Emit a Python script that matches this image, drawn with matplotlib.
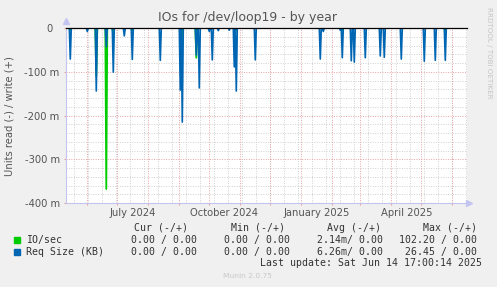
#!/usr/bin/env python
# -*- coding: utf-8 -*-

import pandas as pd
import matplotlib
matplotlib.use('Agg')
import matplotlib.pyplot as plt

# Munin "by year" window: 400 days up to last update
start = pd.Timestamp('2024-05-10 17:00')
end = pd.Timestamp('2025-06-15 17:00')

# Read spikes (negative side), milli-units
req_dates = ['2024-05-15', '2024-06-01', '2024-06-10', '2024-06-20', '2024-06-27',
             '2024-07-08', '2024-07-16', '2024-08-13', '2024-09-02', '2024-09-04',
             '2024-09-18', '2024-09-21', '2024-10-01', '2024-10-04', '2024-10-10',
             '2024-10-21', '2024-10-26', '2024-10-28', '2024-11-16', '2025-01-20',
             '2025-01-23', '2025-02-09', '2025-02-11', '2025-02-20', '2025-02-23',
             '2025-03-06', '2025-03-21', '2025-03-25', '2025-04-11', '2025-05-04',
             '2025-05-15', '2025-05-25']
req_values = [-71, -8, -144, -43, -101,
              -18, -72, -74, -142, -215,
              -62, -137, -8, -73, -6,
              -5, -89, -144, -73, -71,
              -8, -5, -68, -75, -78,
              -68, -64, -67, -71, -76,
              -74, -74]

io_dates = ['2024-05-15', '2024-06-10', '2024-06-20', '2024-06-27', '2024-07-16',
            '2024-09-03', '2024-09-18', '2024-10-28', '2025-02-11', '2025-05-25']
io_values = [-5, -110, -368, -15, -6,
             -50, -68, -5, -6, -8]

y_ticks = [0, -100, -200, -300, -400]
y_tick_labels = ['0  ', '-100 m', '-200 m', '-300 m', '-400 m']

month_label_dates = ['2024-07-16', '2024-10-16', '2025-01-16', '2025-04-16']
month_labels = ['July 2024', 'October 2024', 'January 2025', 'April 2025']

legend_names = ['IO/sec', 'Req Size (KB)']
legend_colors = ['#00cc00', '#0066b3']
cur_vals = ['0.00 / 0.00', '0.00 / 0.00']
min_vals = ['0.00 / 0.00', '0.00 / 0.00']
avg_vals = ['2.14m/ 0.00', '6.26m/ 0.00']
max_vals = ['102.20 / 0.00', '26.45 / 0.00']

W, H = 497, 287
TXT = '#555555'
MAJOR = '#e9a3a3'
MINOR = '#d0d0d0'
AXIS = '#c4c4f0'


def fx(x):
    return x / W


def fy(y):
    return 1 - y / H


def daily_series(dates, values):
    """Spikes on a daily zero baseline, like the rrd daily consolidation"""
    days = pd.date_range(start.normalize(), end.normalize(), freq='D')
    s = pd.Series(values, index=pd.to_datetime(dates))
    return s.reindex(days, fill_value=0)


fig = plt.figure(figsize=(W / 100, H / 100), dpi=100, facecolor='#f0f0f0')
ax = fig.add_axes([fx(66), fy(203), (467 - 66) / W, (203 - 28) / H])
ax.set_facecolor('white')
ax.set_xlim(start, end)
ax.set_ylim(-400, 0)

# grid: minor every 14 days / 20 m, major every month / 100 m
for d in pd.date_range('2024-05-19', end, freq='14D'):
    ax.axvline(d, color=MINOR, lw=0.7, dashes=(1, 1.5), zorder=1)
for v in range(-380, 0, 20):
    if v % 100:
        ax.axhline(v, color=MINOR, lw=0.7, dashes=(1, 1.5), zorder=1)
month_starts = pd.date_range('2024-06-01', '2025-06-01', freq='MS')
for d in month_starts:
    ax.axvline(d, color=MAJOR, lw=0.7, dashes=(1, 1.5), zorder=1.5)
for v in y_ticks[1:]:
    ax.axhline(v, color=MAJOR, lw=0.7, dashes=(1, 1.5), zorder=1.5)

io = daily_series(io_dates, io_values)
req = daily_series(req_dates, req_values)
ax.plot(io.index, io.values, color=legend_colors[0], lw=1.3, zorder=3)
ax.plot(req.index, req.values, color=legend_colors[1], lw=1.2, zorder=4)

# zero line
ax.axhline(0, color='black', lw=0.9, zorder=5, clip_on=False)

# axes frame
for side in ['top', 'right']:
    ax.spines[side].set_visible(False)
for side in ['left', 'bottom']:
    ax.spines[side].set_color(AXIS)
    ax.spines[side].set_linewidth(0.8)
ax.plot([0], [1.04], marker='^', color=AXIS, ms=4, transform=ax.transAxes, clip_on=False)
ax.plot([1.005], [0], marker='>', color=AXIS, ms=4, transform=ax.transAxes, clip_on=False)

ax.set_yticks(y_ticks)
ax.set_yticklabels(y_tick_labels)
ax.tick_params(axis='y', length=1.5, color=MAJOR, pad=3, labelsize=7.2, labelcolor=TXT)
ax.set_xticks(month_starts)
ax.set_xticklabels([])
ax.tick_params(axis='x', length=1.5, color=MAJOR)

for d, lab in zip(month_label_dates, month_labels):
    ax.text(pd.Timestamp(d), -10 / 175, lab, transform=ax.get_xaxis_transform(),
            ha='center', va='center', fontsize=7.2, color=TXT)

fig.text(fx(248), fy(18), 'IOs for /dev/loop19 - by year', ha='center', va='center',
         fontsize=9, color=TXT)
fig.text(fx(10), fy(115.6), 'Units read (-) / write (+)', rotation=90,
         ha='center', va='center', fontsize=7.2, color=TXT)
fig.text(fx(489), fy(53), 'RRDTOOL / TOBI OETIKER', rotation=-90,
         ha='center', va='center', fontsize=5.1, color='#c4c4c4')

# legend block
mono = dict(family='DejaVu Sans Mono', fontsize=7.1, color='#333333', va='center')
fig.text(fx(134.3), fy(227.7), 'Cur (-/+)', **mono)
fig.text(fx(230.7), fy(227.7), 'Min (-/+)', **mono)
fig.text(fx(326.7), fy(227.7), 'Avg (-/+)', **mono)
fig.text(fx(422.7), fy(227.7), 'Max (-/+)', **mono)
for i, name in enumerate(legend_names):
    y = 239.5 + 12.2 * i
    fig.patches.append(plt.Rectangle((fx(14), fy(y + 3)), 6 / W, 6 / H,
                                     transform=fig.transFigure, color=legend_colors[i]))
    fig.text(fx(26), fy(y), name, ha='left', **mono)
    fig.text(fx(196.7), fy(y), cur_vals[i], ha='right', **mono)
    fig.text(fx(290), fy(y), min_vals[i], ha='right', **mono)
    fig.text(fx(383.3), fy(y), avg_vals[i], ha='right', **mono)
    fig.text(fx(476.7), fy(y), max_vals[i], ha='right', **mono)
fig.text(fx(482.3), fy(263.5), 'Last update: Sat Jun 14 17:00:14 2025', ha='right', **mono)

fig.text(fx(247), fy(276), 'Munin 2.0.75', ha='center', va='center',
         fontsize=5.4, color='#c8c8c8')

fig.savefig('out.png', dpi=100, facecolor=fig.get_facecolor())
